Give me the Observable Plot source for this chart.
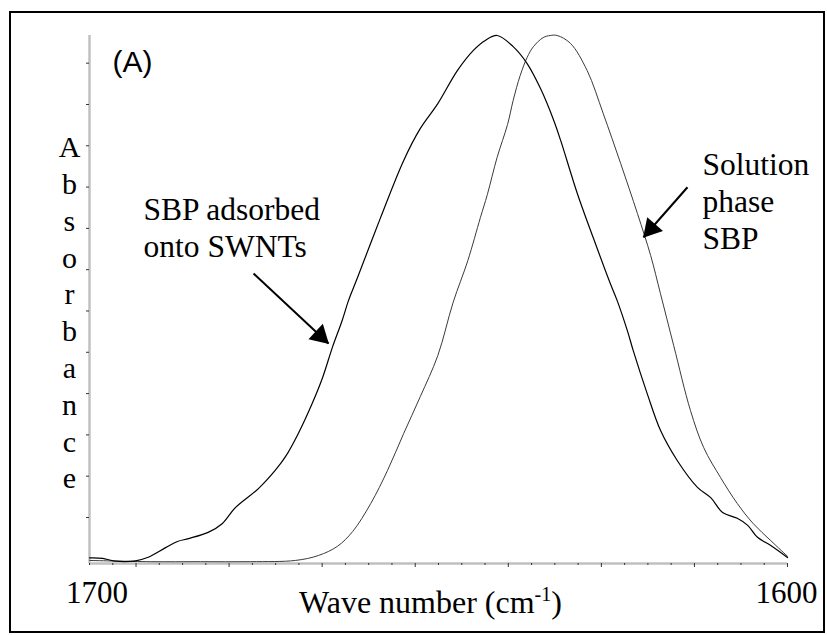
<!DOCTYPE html>
<html><head><meta charset="utf-8">
<script src="https://cdn.jsdelivr.net/npm/d3@7"></script>
<script src="https://cdn.jsdelivr.net/npm/@observablehq/plot@0.6"></script>
<style>
html,body{margin:0;padding:0;background:#fff;}
#wrap{position:relative;width:827px;height:635px;}
#border{position:absolute;left:9px;top:11px;width:816px;height:622px;border:2px solid #000;box-sizing:border-box;pointer-events:none}
svg{display:block}
</style></head><body><div id="wrap"><div id="border"></div></div>
<script>
// ---- data (wavenumber in cm^-1, absorbance in arbitrary units) ----
const wavenumberA = [1700.0, 1698.1, 1696.6, 1693.4, 1691.7, 1689.1, 1687.4, 1685.8, 1683.0, 1681.0, 1679.1, 1675.8, 1673.4, 1671.9, 1670.1, 1668.1, 1666.6, 1665.2, 1663.8, 1662.9, 1661.6, 1658.3, 1655.0, 1652.6, 1650.1, 1647.3, 1645.0, 1643.3, 1641.6, 1639.3, 1637.3, 1635.4, 1633.5, 1632.5, 1630.1, 1627.8, 1625.4, 1624.4, 1622.9, 1622.1, 1620.1, 1618.2, 1615.8, 1612.9, 1611.0, 1609.3, 1607.2, 1605.7, 1604.3, 1602.4, 1600.0];
const absorbanceA = [0.002, 0.001, -0.005, -0.005, 0.003, 0.027, 0.042, 0.049, 0.064, 0.085, 0.124, 0.170, 0.214, 0.248, 0.303, 0.376, 0.439, 0.512, 0.577, 0.625, 0.681, 0.826, 0.964, 1.042, 1.102, 1.182, 1.231, 1.255, 1.267, 1.240, 1.199, 1.139, 1.062, 1.013, 0.884, 0.776, 0.667, 0.625, 0.550, 0.504, 0.400, 0.311, 0.238, 0.173, 0.148, 0.112, 0.098, 0.081, 0.052, 0.032, 0.003];

const wavenumberB = [1700.0, 1691.3, 1684.1, 1676.9, 1670.5, 1667.2, 1664.5, 1662.3, 1659.7, 1657.3, 1655.0, 1652.6, 1650.1, 1647.9, 1645.8, 1644.0, 1643.0, 1641.6, 1640.1, 1639.3, 1638.3, 1637.3, 1636.4, 1635.0, 1634.0, 1633.0, 1631.1, 1628.7, 1626.4, 1623.9, 1621.5, 1619.6, 1618.2, 1616.3, 1613.9, 1612.0, 1609.6, 1607.2, 1604.9, 1602.4, 1600.0];
const absorbanceB = [-0.004, -0.007, -0.007, -0.007, -0.004, 0.008, 0.030, 0.066, 0.134, 0.214, 0.303, 0.393, 0.492, 0.621, 0.722, 0.826, 0.882, 0.972, 1.052, 1.110, 1.170, 1.214, 1.240, 1.262, 1.267, 1.267, 1.248, 1.182, 1.078, 0.957, 0.836, 0.734, 0.642, 0.516, 0.359, 0.269, 0.197, 0.134, 0.085, 0.044, 0.006];

// tick values
const xMinorTicks = d3.range(0, 31).filter(k => (k - 2) % 4 !== 0).map(k => 1700 - k * 10 / 3);
const xMajorTicks = d3.range(2, 31, 4).map(k => 1700 - k * 10 / 3);
const yTicks = [0.1, 0.2, 0.3, 0.4, 0.5, 0.6, 0.7, 0.8, 0.9, 1.0, 1.1, 1.2];

// annotation labels
const labelTexts = ["SBP adsorbed\nonto SWNTs", "Solution\nphase\nSBP"];
const labelX = [1692.26, 1612.18];
const labelY = [0.7295, 0.749];
const panelText = ["(A)"];
const panelX = [1696.7];
const panelY = [1.1775];
const tickLabelTexts = ["1700", "1600"];
const tickLabelX = [1698.93, 1600.14];
const tickLabelY = [-0.1082, -0.1082];
const xTitle = ["Wave number (cm-1)"];
const xTitleX = [1651.15];
const xTitleY = [-0.1324];
const yTitle = ["A\nb\ns\no\nr\nb\na\nn\nc\ne"];
const yTitleX = [1702.87];
const yTitleY = [0.1702];

// arrows: start (x1,y1) -> tip (x2,y2)
const arrowX1 = [1676.50, 1614.33];
const arrowY1 = [0.6908, 0.8996];
const arrowX2 = [1665.76, 1620.63];
const arrowY2 = [0.5213, 0.7785];

// ---- layout ----
const width = 827, height = 635;
const marginLeft = 89, marginRight = 40, marginTop = 35, marginBottom = 72;
const xDomain = [1700, 1600];
const yDomain = [-0.0114, 1.267];

const seriesA = wavenumberA.map((w, i) => ({w, a: absorbanceA[i]}));
const seriesB = wavenumberB.map((w, i) => ({w, a: absorbanceB[i]}));
const arrows = arrowX1.map((x1, i) => ({x1, y1: arrowY1[i], x2: arrowX2[i], y2: arrowY2[i]}));

const xs = d3.scaleLinear().domain(xDomain).range([marginLeft, width - marginRight]);
const ys = d3.scaleLinear().domain(yDomain).range([height - marginBottom, marginTop]);
const headR = 7.8, headBack = 11.5;
const headMarks = arrows.map(a => {
  const dx = xs(a.x2) - xs(a.x1), dy = ys(a.y2) - ys(a.y1), L = Math.hypot(dx, dy);
  return Plot.dot([a], {x: "x2", y: "y2", symbol: "triangle", r: headR, fill: "#000", stroke: "none",
    rotate: Math.atan2(dx, -dy) * 180 / Math.PI, dx: -dx / L * headBack, dy: -dy / L * headBack});
});

const serif = "Liberation Serif";
const sans = "Liberation Sans";

const chart = Plot.plot({
  width, height, marginLeft, marginRight, marginTop, marginBottom,
  x: {domain: xDomain, axis: null},
  y: {domain: yDomain, axis: null},
  style: {background: "transparent", overflow: "visible"},
  marks: [
    Plot.ruleX([1700], {stroke: "#c0c0c0", strokeWidth: 2.5}),
    Plot.ruleY([yDomain[0]], {stroke: "#c0c0c0", strokeWidth: 2.5}),
    Plot.axisX(xMinorTicks, {anchor: "bottom", tickSize: 2, tickFormat: () => "", label: null, stroke: "#333"}),
    Plot.axisX(xMajorTicks, {anchor: "bottom", tickSize: 4, tickFormat: () => "", label: null, stroke: "#333"}),
    Plot.axisY(yTicks, {anchor: "left", tickSize: 3, tickFormat: () => "", label: null, stroke: "#333"}),
    Plot.line(seriesB, {x: "w", y: "a", stroke: "#3a3a3a", strokeWidth: 1, curve: "catmull-rom"}),
    Plot.line(seriesA, {x: "w", y: "a", stroke: "#000", strokeWidth: 1.2, curve: "catmull-rom"}),
    Plot.link(arrows, {x1: "x1", y1: "y1", x2: "x2", y2: "y2", stroke: "#000", strokeWidth: 2}),
    ...headMarks,
    Plot.text(panelText, {x: panelX, y: panelY, text: d => d, textAnchor: "start", lineAnchor: "bottom", fontFamily: sans, fontSize: 30, fill: "#000"}),
    Plot.text(labelTexts, {x: labelX, y: labelY, text: d => d, textAnchor: "start", lineAnchor: "bottom", lineHeight: 1.18, fontFamily: serif, fontSize: 31.5, fill: "#000"}),
    Plot.text(tickLabelTexts, {x: tickLabelX, y: tickLabelY, text: d => d, textAnchor: "middle", lineAnchor: "bottom", fontFamily: serif, fontSize: 31, fill: "#000"}),
    Plot.text(xTitle, {x: xTitleX, y: xTitleY, text: d => d, textAnchor: "middle", lineAnchor: "bottom", fontFamily: serif, fontSize: 32, fill: "#000"}),
    Plot.text(yTitle, {x: yTitleX, y: yTitleY, text: d => d, textAnchor: "middle", lineAnchor: "bottom", lineHeight: 1.227, fontFamily: serif, fontSize: 30, fill: "#000"})
  ]
});

// force fonts and build the superscript for cm-1
const ns = "http://www.w3.org/2000/svg";
for (const t of chart.querySelectorAll("text")) {
  const s = t.textContent;
  if (!s) continue;
  t.style.fontFamily = s === "(A)" ? "'Liberation Sans', Arial, sans-serif" : "'Liberation Serif', 'Times New Roman', serif";
  if (s === "Wave number (cm-1)") {
    t.textContent = "";
    const a = document.createElementNS(ns, "tspan"); a.textContent = "Wave number (cm";
    const b = document.createElementNS(ns, "tspan"); b.textContent = "-1"; b.setAttribute("dy", "-12"); b.setAttribute("font-size", "20");
    const c = document.createElementNS(ns, "tspan"); c.textContent = ")"; c.setAttribute("dy", "12");
    t.append(a, b, c);
  }
}
document.getElementById("wrap").prepend(chart);
</script></body></html>
